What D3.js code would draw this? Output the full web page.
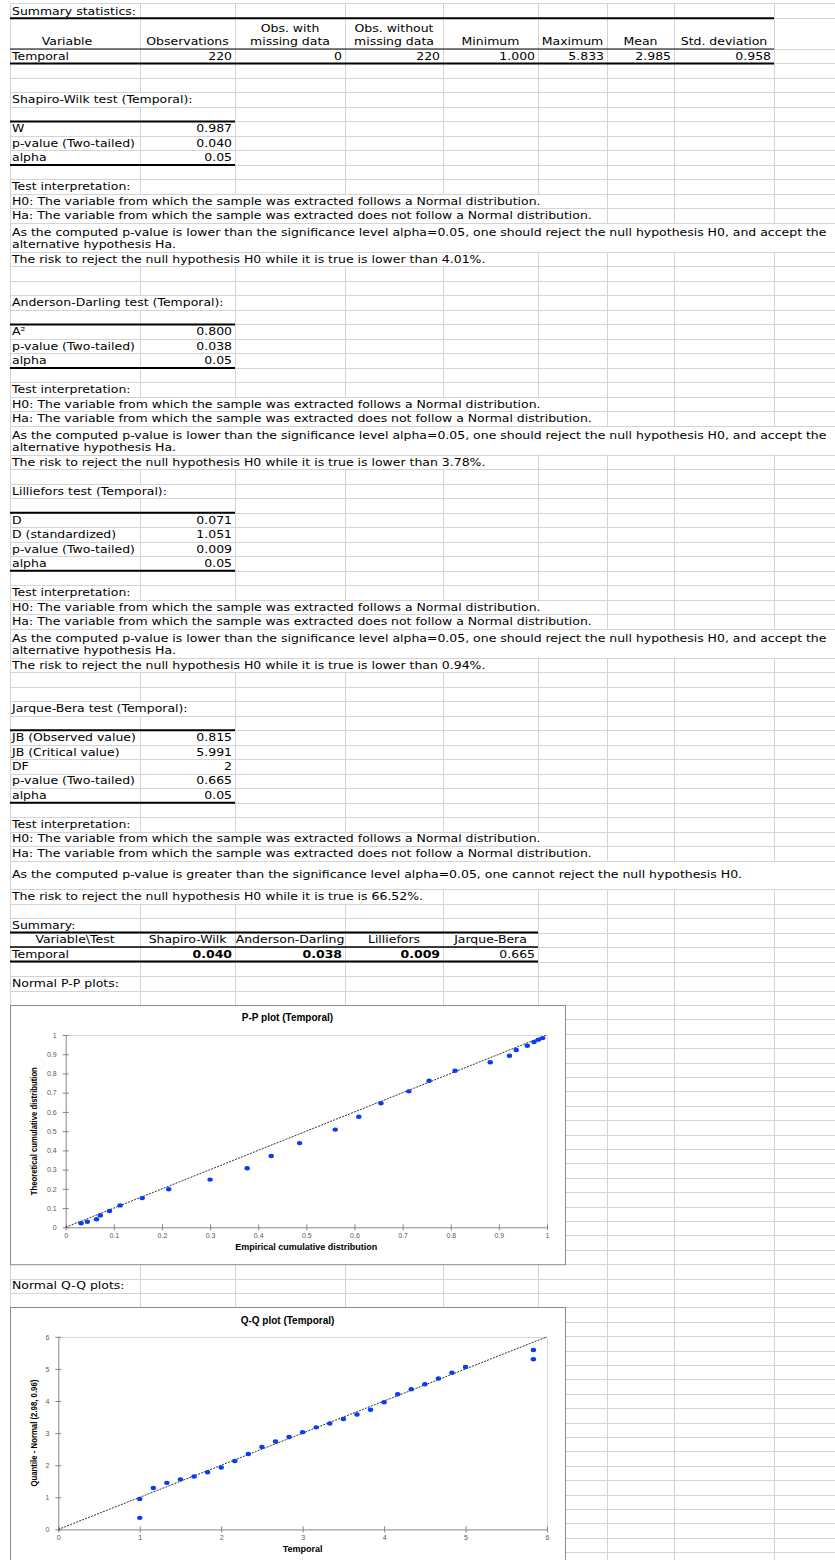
<!DOCTYPE html>
<html>
<head>
<meta charset="utf-8">
<script src="https://cdn.jsdelivr.net/npm/d3@7"></script>
<style>
  html, body { margin: 0; padding: 0; background: #fff; }
  svg { display: block; }
  .cell { font-family: "DejaVu Sans", sans-serif; fill: #000; }
  .chart text { font-family: "Liberation Sans", Arial, sans-serif; }
</style>
</head>
<body>
<svg id="sheet" width="835" height="1560"></svg>
<script>
// ---------- values shown in the sheet ----------
const statHeaders = [["Variable"], ["Observations"], ["Obs. with", "missing data"], ["Obs. without", "missing data"],
                     ["Minimum"], ["Maximum"], ["Mean"], ["Std. deviation"]];
const statValues = ["Temporal", "220", "0", "220", "1.000", "5.833", "2.985", "0.958"];

const shapiroRows = [["W", "0.987"], ["p-value (Two-tailed)", "0.040"], ["alpha", "0.05"]];
const andersonRows = [["A\u00B2", "0.800"], ["p-value (Two-tailed)", "0.038"], ["alpha", "0.05"]];
const lillieforsRows = [["D", "0.071"], ["D (standardized)", "1.051"], ["p-value (Two-tailed)", "0.009"], ["alpha", "0.05"]];
const jarqueRows = [["JB (Observed value)", "0.815"], ["JB (Critical value)", "5.991"], ["DF", "2"],
                    ["p-value (Two-tailed)", "0.665"], ["alpha", "0.05"]];
const riskPercents = ["4.01%", "3.78%", "0.94%", "66.52%"];

const summaryTests = ["Shapiro-Wilk", "Anderson-Darling", "Lilliefors", "Jarque-Bera"];
const summaryPValues = ["0.040", "0.038", "0.009", "0.665"];
const alphaLevel = 0.05;

// Normal P-P plot: empirical vs theoretical cumulative distribution
const ppEmpirical = [0.032, 0.045, 0.064, 0.072, 0.091, 0.113, 0.159, 0.214, 0.300, 0.377, 0.427, 0.486, 0.560,
                     0.609, 0.655, 0.713, 0.755, 0.809, 0.882, 0.922, 0.936, 0.959, 0.973, 0.982, 0.991];
const ppTheoretical = [0.021, 0.029, 0.042, 0.062, 0.085, 0.114, 0.152, 0.198, 0.248, 0.307, 0.371, 0.438, 0.508,
                       0.575, 0.645, 0.707, 0.762, 0.814, 0.858, 0.892, 0.922, 0.944, 0.964, 0.976, 0.984];
const ppTicks = [0, 0.1, 0.2, 0.3, 0.4, 0.5, 0.6, 0.7, 0.8, 0.9, 1];

// Normal Q-Q plot: observed Temporal values vs Normal(2.98, 0.96) quantiles
const qqTemporal = [1.000, 1.000, 1.167, 1.333, 1.500, 1.667, 1.833, 2.000, 2.167, 2.333, 2.500, 2.667, 2.833, 3.000,
                    3.167, 3.333, 3.500, 3.667, 3.833, 4.000, 4.167, 4.333, 4.500, 4.667, 4.833, 5.000, 5.833, 5.833];
const qqNormal = [0.36, 0.95, 1.29, 1.45, 1.56, 1.65, 1.78, 1.93, 2.13, 2.35, 2.57, 2.74, 2.88, 3.03,
                  3.18, 3.30, 3.44, 3.58, 3.73, 3.96, 4.21, 4.37, 4.52, 4.70, 4.88, 5.06, 5.59, 5.30];
const qqTicks = [0, 1, 2, 3, 4, 5, 6];

const h0Text = "H0: The variable from which the sample was extracted follows a Normal distribution.";
const haText = "Ha: The variable from which the sample was extracted does not follow a Normal distribution.";
const rejectLines = ["As the computed p-value is lower than the significance level alpha=0.05, one should reject the null hypothesis H0, and accept the",
                     "alternative hypothesis Ha."];
const keepLines = ["As the computed p-value is greater than the significance level alpha=0.05, one cannot reject the null hypothesis H0."];

// ---------- sheet geometry ----------
const svg = d3.select("#sheet");
const gridG = svg.append("g");
const ruleG = svg.append("g");
const textG = svg.append("g");
const chartG = svg.append("g").attr("class", "chart");

const colX = [10, 140, 235, 345, 443, 538, 607, 674, 774];
const sheetRight = 835;
const P = 14.496;      // row height of the upper block
const P2 = 14.4;       // row height next to the charts

// cell font: fixed glyph height, widened so the interpretation line spans its cells
const cellFont = 10.4;
const probe = textG.append("text").attr("class", "cell").style("font-size", cellFont + "px").text(h0Text);
const cellScaleX = Math.max(0.9, Math.min(1.3, 529 / probe.node().getComputedTextLength()));
probe.remove();

const rows = [];
const add = (h, r = {}) => rows.push(Object.assign({ h, kind: "blank" }, r));

add(15.3, { kind: "label", text: "Summary statistics:" });
add(30.7, { kind: "statHead" });
add(P, { kind: "statVal" });
add(P); add(P);

function section(title, kv, acLines, acH, risk, gapAfter) {
  add(P, { kind: "label", text: title });
  add(P);
  kv.forEach((d, i) => add(P, { kind: "kv", key: d[0], val: d[1], first: i === 0, last: i === kv.length - 1 }));
  add(P);
  add(P, { kind: "label", text: "Test interpretation:" });
  add(P, { kind: "label", text: h0Text });
  add(P, { kind: "label", text: haText });
  add(acH, { kind: "wrap", lines: acLines });
  add(P, { kind: "label", text: risk });
  for (let i = 0; i < gapAfter; i++) add(P);
}
const lowerRisk = p => `The risk to reject the null hypothesis H0 while it is true is lower than ${p}.`;
section("Shapiro-Wilk test (Temporal):", shapiroRows, rejectLines, 2 * P, lowerRisk(riskPercents[0]), 2);
section("Anderson-Darling test (Temporal):", andersonRows, rejectLines, 2 * P, lowerRisk(riskPercents[1]), 1);
section("Lilliefors test (Temporal):", lillieforsRows, rejectLines, 2 * P, lowerRisk(riskPercents[2]), 2);
section("Jarque-Bera test (Temporal):", jarqueRows, keepLines, 1.95 * P,
        `The risk to reject the null hypothesis H0 while it is true is ${riskPercents[3]}.`, 1);

add(P, { kind: "label", text: "Summary:" });
add(P, { kind: "sumHead" });
add(P, { kind: "sumVal" });
add(P);
add(P, { kind: "label", text: "Normal P-P plots:" });
add(P);
const ppRowIndex = rows.length;
for (let i = 0; i < 18; i++) add(P2);
add(P2);
add(P2, { kind: "label", text: "Normal Q-Q plots:" });
add(P2);
const qqRowIndex = rows.length;
for (let i = 0; i < 20; i++) add(P2);

let yy = 3;
rows.forEach(r => { r.y = yy; yy += r.h; });

// ---------- cell text ----------
function cellText(x, y, str, anchor = "start", bold = false) {
  return textG.append("text").attr("class", "cell")
    .style("font-size", cellFont + "px")
    .attr("font-weight", bold ? "bold" : null)
    .attr("transform", `translate(${x},${y}) scale(${cellScaleX},1)`)
    .attr("text-anchor", anchor).text(str);
}
const colMid = i => (colX[i] + colX[i + 1]) / 2;

rows.forEach(r => {
  const base = r.y + r.h - 3.8;
  r.hide = new Set();
  if (r.kind === "label") {
    const t = cellText(12, base, r.text);
    const end = 12 + t.node().getComputedTextLength() * cellScaleX;
    colX.forEach(x => { if (x > 10 && x < end + 2) r.hide.add(x); });
  } else if (r.kind === "statHead") {
    statHeaders.forEach((lines, i) => {
      const cx = i === 0 ? colMid(i) - 8 : colMid(i);
      lines.forEach((s, k) => cellText(cx, base - 13 * (lines.length - 1 - k), s, "middle"));
    });
  } else if (r.kind === "statVal") {
    statValues.forEach((s, i) => {
      if (i === 0) cellText(12, base, s);
      else cellText(colX[i + 1] - 3, base, s, "end");
    });
  } else if (r.kind === "kv") {
    cellText(12, base, r.key);
    cellText(colX[2] - 3, base, r.val, "end");
  } else if (r.kind === "wrap") {
    colX.forEach(x => { if (x > 10) r.hide.add(x); });
    if (r.lines.length === 2) {
      cellText(12, base - 12.4, r.lines[0]);
      cellText(12, base, r.lines[1]);
    } else {
      cellText(12, r.y + 17.5, r.lines[0]);
    }
  } else if (r.kind === "sumHead") {
    cellText(colMid(0), base, "Variable\\Test", "middle");
    summaryTests.forEach((s, i) => cellText(colMid(i + 1), base, s, "middle"));
  } else if (r.kind === "sumVal") {
    cellText(12, base, "Temporal");
    summaryPValues.forEach((s, i) => cellText(colX[i + 2] - 3, base, s, "end", +s < alphaLevel));
  }
});

// ---------- grid lines ----------
const crisp = v => Math.round(v) + 0.5;
const gridColor = "#d4d4d4";
rows.forEach(r => {
  gridG.append("line").attr("x1", 10).attr("x2", sheetRight)
    .attr("y1", crisp(r.y)).attr("y2", crisp(r.y)).attr("stroke", gridColor);
  colX.forEach(x => {
    if (r.hide.has(x)) return;
    gridG.append("line").attr("x1", crisp(x - 0.5)).attr("x2", crisp(x - 0.5))
      .attr("y1", r.y).attr("y2", r.y + r.h).attr("stroke", gridColor);
  });
});

// ---------- table borders ----------
function rule(y, x1, x2, w) {
  ruleG.append("line").attr("x1", x1).attr("x2", x2).attr("y1", y).attr("y2", y)
    .attr("stroke", "#000").attr("stroke-width", w);
}
rows.forEach(r => {
  if (r.kind === "statHead") { rule(r.y, 10, colX[8], 2); rule(r.y + r.h, 10, colX[8], 1); }
  if (r.kind === "statVal") rule(r.y + r.h, 10, colX[8], 2);
  if (r.kind === "kv" && r.first) rule(r.y, 10, colX[2], 2);
  if (r.kind === "kv" && r.last) rule(r.y + r.h, 10, colX[2], 2);
  if (r.kind === "sumHead") { rule(r.y, 10, colX[5], 2); rule(r.y + r.h, 10, colX[5], 1.5); }
  if (r.kind === "sumVal") rule(r.y + r.h, 10, colX[5], 2);
});

// ---------- charts ----------
function drawChart(cfg) {
  const g = chartG.append("g");
  g.append("rect").attr("x", 10.5).attr("y", crisp(cfg.top)).attr("width", 555).attr("height", cfg.height)
    .attr("fill", "#fff").attr("stroke", "#8c8c8c");

  const x = d3.scaleLinear().domain(cfg.domain).range([cfg.left, cfg.right]);
  const y = d3.scaleLinear().domain(cfg.domain).range([cfg.bottom, cfg.plotTop]);

  g.append("path")
    .attr("d", `M${cfg.left},${crisp(cfg.plotTop)}H${crisp(cfg.right)}V${cfg.bottom}`)
    .attr("fill", "none").attr("stroke", "#d9d9d9");

  const styleAxis = (ax, horizontal) => {
    ax.select(".domain").attr("stroke", "#868686");
    ax.selectAll(".tick line").attr("stroke", "#868686");
    if (horizontal) ax.selectAll(".tick line").attr("y1", -3).attr("y2", 3);
    else ax.selectAll(".tick line").attr("x1", 3).attr("x2", -3);
    ax.selectAll(".tick text").attr("fill", "#595959").attr("font-size", 7)
      .attr("font-family", "Liberation Sans, Arial, sans-serif");
    ax.attr("font-size", null).attr("font-family", null);
  };

  const xAx = g.append("g").attr("transform", `translate(0,${cfg.bottom})`)
    .call(d3.axisBottom(x).tickValues(cfg.ticks).tickFormat(d3.format("~g"))
      .tickSizeInner(3).tickSizeOuter(0).tickPadding(3));
  styleAxis(xAx, true);
  const yAx = g.append("g").attr("transform", `translate(${cfg.left},0)`)
    .call(d3.axisLeft(y).tickValues(cfg.ticks).tickFormat(d3.format("~g"))
      .tickSizeInner(3).tickSizeOuter(0).tickPadding(6));
  styleAxis(yAx, false);

  g.append("line")
    .attr("x1", x(cfg.domain[0])).attr("y1", y(cfg.domain[0]))
    .attr("x2", x(cfg.domain[1])).attr("y2", y(cfg.domain[1]))
    .attr("stroke", "#1a1a1a").attr("stroke-width", 0.9).attr("stroke-dasharray", "2,1.2");

  g.selectAll("ellipse.pt").data(d3.zip(cfg.xs, cfg.ys)).join("ellipse").attr("class", "pt")
    .attr("cx", d => x(d[0])).attr("cy", d => y(d[1]))
    .attr("rx", 2.7).attr("ry", 2.2).attr("fill", "#0a3cf5");

  g.append("text").attr("x", 287.5).attr("y", cfg.top + 16.3).attr("text-anchor", "middle")
    .attr("font-size", 10).attr("font-weight", "bold").attr("fill", "#000").text(cfg.title);
  g.append("text").attr("x", (cfg.left + cfg.right) / 2).attr("y", cfg.bottom + 23)
    .attr("text-anchor", "middle").attr("font-size", 9).attr("font-weight", "bold").attr("fill", "#000")
    .text(cfg.xTitle);
  const my = (cfg.plotTop + cfg.bottom) / 2;
  g.append("text").attr("transform", `translate(36.5,${my}) rotate(-90)`).attr("text-anchor", "middle")
    .attr("font-size", 9.5).attr("font-weight", "bold").attr("fill", "#000")
    .attr("textLength", cfg.yTitleLen).attr("lengthAdjust", "spacingAndGlyphs")
    .text(cfg.yTitle);
}

const ppTop = rows[ppRowIndex].y;
drawChart({
  top: ppTop, height: 18 * P2, left: 65.7, right: 547, plotTop: ppTop + 30, bottom: ppTop + 222.3,
  domain: [0, 1], ticks: ppTicks, xs: ppEmpirical, ys: ppTheoretical,
  title: "P-P plot (Temporal)", xTitle: "Empirical cumulative distribution",
  yTitle: "Theoretical cumulative distribution", yTitleLen: 128
});

const qqTop = rows[qqRowIndex].y;
drawChart({
  top: qqTop, height: 300, left: 58.3, right: 547, plotTop: qqTop + 29.4, bottom: qqTop + 222,
  domain: [0, 6], ticks: qqTicks, xs: qqTemporal, ys: qqNormal,
  title: "Q-Q plot (Temporal)", xTitle: "Temporal",
  yTitle: "Quantile - Normal (2.98, 0.96)", yTitleLen: 107
});
</script>
</body>
</html>
